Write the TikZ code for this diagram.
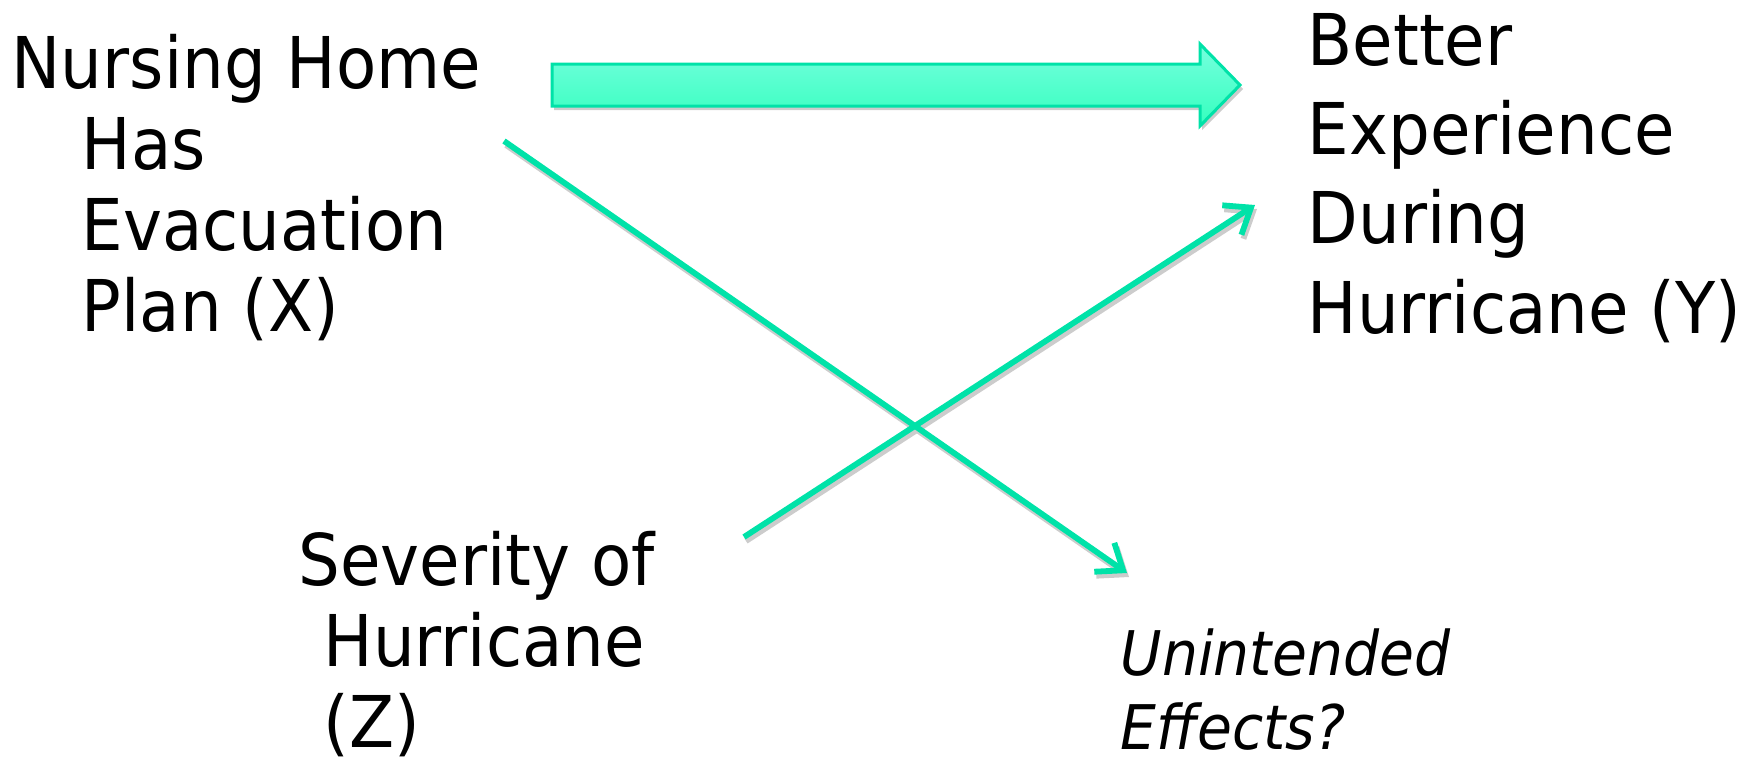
\documentclass[tikz,border=0pt]{standalone}
\usepackage{fontspec}
\newfontfamily\tfont[FakeStretch=0.922]{DejaVu Sans}
\usetikzlibrary{arrows.meta}
\definecolor{lnc}{RGB}{0,226,168}
\definecolor{arrtop}{RGB}{118,255,222}
\definecolor{arrbot}{RGB}{52,255,190}
\definecolor{shd}{RGB}{204,204,204}
\begin{document}
\begin{tikzpicture}[x=0.01cm,y=-0.01cm,
  lbl/.style={inner sep=0pt, anchor=base west, align=left},
  big/.style={font=\tfont\fontsize{20.3pt}{23pt}\selectfont},
  conn/.style={draw=lnc, line width=0.058cm, -{Straight Barb[length=6.5pt,width=10pt]}},
  connshadow/.style={draw=shd, line width=0.058cm, -{Straight Barb[length=6.5pt,width=10pt]}},
  blockarrow/.style={draw=lnc, line width=0.03cm, top color=arrtop, bottom color=arrbot},
  blockshadow/.style={fill=shd}]
\useasboundingbox (0,0) rectangle (1760,760);

% texts (anchored at the baseline of their last line)
\node[lbl, big] (X) at (11,331) {Nursing Home\\\hspace*{0.70cm}Has\\\hspace*{0.70cm}Evacuation\\\hspace*{0.70cm}Plan (X)};
\node[lbl, font=\tfont\fontsize{20.3pt}{25.4pt}\selectfont] (Y) at (1307,333) {Better\\Experience\\During\\Hurricane (Y)};
\node[lbl, big] (Z) at (298,747) {Severity of\\\hspace*{0.25cm}Hurricane\\\hspace*{0.25cm}(Z)};
\node[lbl, font=\tfont\itshape\fontsize{17.5pt}{20.8pt}\selectfont] (U) at (1120,749) {Unintended\\Effects?};

% block arrow X -> Y
\path[blockshadow] (554,68) -- (1202,68) -- (1202,48) -- (1243,89) -- (1202,130) -- (1202,110) -- (554,110) -- cycle;
\path[blockarrow] (552,64) -- (1200,64) -- (1200,44) -- (1240,85) -- (1200,126) -- (1200,106) -- (552,106) -- cycle;

% connectors
\coordinate (xs) at (504,141);
\coordinate (ue) at (1127,573);
\coordinate (zs) at (744,537);
\coordinate (ye) at (1255,205);
\draw[connshadow] ([shift={(2,4)}]xs) -- ([shift={(2,4)}]ue);
\draw[connshadow] ([shift={(2,4)}]zs) -- ([shift={(2,4)}]ye);
\draw[conn] (xs) -- (ue);
\draw[conn] (zs) -- (ye);
\end{tikzpicture}
\end{document}
